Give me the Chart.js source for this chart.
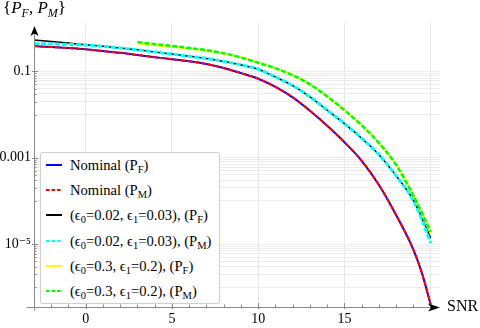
<!DOCTYPE html>
<html>
<head>
<meta charset="utf-8">
<script src="https://cdn.jsdelivr.net/npm/chart.js@4.4.1/dist/chart.umd.min.js"></script>
<style>
  body { margin: 0; background: #fff; }
  #wrap { position: relative; width: 480px; height: 328px; font-family: "Liberation Serif", "DejaVu Serif", serif; color: #000; }
  canvas { position: absolute; left: 0; top: 0; }
  .sub { font-size: 10.5px; position: relative; top: 3px; }
  #ytitle { position: absolute; left: 3px; top: -2px; font-size: 17px; white-space: nowrap; }
  #ytitle .s2 { font-size: 12px; position: relative; top: 4px; font-style: italic; }
  #xtitle { position: absolute; left: 447px; top: 297px; font-size: 16px; }
  #legend { position: absolute; left: 40px; top: 152px; width: 178px; height: 150px; background: #fff; border: 1px solid #cfcfcf; border-radius: 2px; }
  .row { position: absolute; left: 0; height: 20px; white-space: nowrap; font-size: 14.6px; line-height: 20px; }
  .row svg { position: absolute; left: 5px; top: 8px; }
  .row .t { position: absolute; left: 29px; top: 0; }
</style>
</head>
<body>
<div id="wrap">
  <canvas id="chart" width="480" height="328"></canvas>
  <div id="ytitle">{<i>P</i><span class="s2">F</span>, <i>P</i><span class="s2">M</span>}</div>
  <div id="xtitle">SNR</div>
  <div id="legend"></div>
</div>
<script>
// SNR grid of the curves
const snrFull = [-3, -2, -1, 0, 1, 2, 3, 4, 5, 6, 7, 8, 9, 10, 11, 12, 13, 14, 15, 16, 17, 18, 19, 19.5, 20];
const snrHigh = [3, 4, 5, 6, 7, 8, 9, 10, 11, 12, 13, 14, 15, 16, 17, 18, 19, 19.5, 20];

// nominal detector (P_F and P_M coincide)
const nominalPF = [0.3855, 0.3673, 0.3467, 0.3236, 0.2951, 0.2692, 0.2399, 0.2138, 0.1905, 0.1718, 0.1479, 0.1202,
  0.0912, 0.0676, 0.0437, 0.0251, 0.0123, 0.0055, 0.00229, 8.5e-4, 2.34e-4, 4.68e-5, 7.4e-6, 2.09e-6, 4.0e-7];
const nominalPM = [0.3855, 0.3673, 0.3467, 0.3236, 0.2951, 0.2692, 0.2399, 0.2138, 0.1905, 0.1718, 0.1479, 0.1202,
  0.0912, 0.0676, 0.0437, 0.0251, 0.0123, 0.0055, 0.00229, 8.5e-4, 2.34e-4, 4.68e-5, 7.4e-6, 2.09e-6, 4.0e-7];

// eps0 = 0.02, eps1 = 0.03
const lowPF = [0.531, 0.490, 0.452, 0.412, 0.3802, 0.3467, 0.3162, 0.2818, 0.2512, 0.2239, 0.1995, 0.1698,
  0.1413, 0.1122, 0.0741, 0.0468, 0.0257, 0.0126, 0.00617, 0.00282, 0.001175, 3.8e-4, 1.05e-4, 3.98e-5, 1.38e-5];
const lowPM = [0.4406, 0.4315, 0.4217, 0.4074, 0.3802, 0.3467, 0.3162, 0.2818, 0.2512, 0.2239, 0.1995, 0.1698,
  0.1413, 0.1122, 0.0741, 0.0468, 0.0257, 0.0126, 0.00617, 0.00282, 0.001175, 3.8e-4, 1.0e-4, 3.55e-5, 1.05e-5];

// eps0 = 0.3, eps1 = 0.2
const highPF = [0.4416, 0.4027, 0.3715, 0.3350, 0.3020, 0.2600, 0.2089, 0.1585, 0.1175, 0.0813, 0.0501, 0.0263,
  0.0126, 0.00562, 0.00219, 6.8e-4, 1.32e-4, 5.2e-5, 1.78e-5];
const highPM = [0.4786, 0.4266, 0.3890, 0.3467, 0.3090, 0.2630, 0.2089, 0.1585, 0.1175, 0.0813, 0.0501, 0.0263,
  0.0126, 0.00562, 0.00219, 6.8e-4, 1.32e-4, 5.2e-5, 1.9e-5];

// axes
const xLabelled = [0, 5, 10, 15];
const xGridAt = [0, 5, 10, 15, 20];
const yTickValues = [0.1, 0.001, 1e-5];
const yTickLabels = ['0.1', '0.001', '10\u207B\u2075'];
const yMinorDecades = [1e-2, 1e-4, 1e-6];

function zip(xs, ys) {
  return xs.map((x, i) => ({ x: x, y: ys[i] }));
}

function yLabelIndex(v) {
  return yTickValues.findIndex(t => Math.abs(Math.log10(v) - Math.log10(t)) < 1e-6);
}

const series = [
  { label: 'Nominal (P<span class="sub">F</span>)', color: '#0000ff', dash: [], width: 2, data: zip(snrFull, nominalPF), order: 6 },
  { label: 'Nominal (P<span class="sub">M</span>)', color: '#ff0000', dash: [5, 2], width: 2, data: zip(snrFull, nominalPM), order: 5 },
  { label: '(\u03F5<span class="sub">0</span>=0.02, \u03F5<span class="sub">1</span>=0.03), (P<span class="sub">F</span>)', color: '#000000', dash: [], width: 1.5, data: zip(snrFull, lowPF), order: 4 },
  { label: '(\u03F5<span class="sub">0</span>=0.02, \u03F5<span class="sub">1</span>=0.03), (P<span class="sub">M</span>)', color: '#00ffff', dash: [5, 2], width: 3, data: zip(snrFull, lowPM), order: 3 },
  { label: '(\u03F5<span class="sub">0</span>=0.3, \u03F5<span class="sub">1</span>=0.2), (P<span class="sub">F</span>)', color: '#ffff00', dash: [], width: 2, data: zip(snrHigh, highPF), order: 2 },
  { label: '(\u03F5<span class="sub">0</span>=0.3, \u03F5<span class="sub">1</span>=0.2), (P<span class="sub">M</span>)', color: '#00ff00', dash: [5, 2], width: 2.5, data: zip(snrHigh, highPM), order: 1 },
];

// legend as html
const legendEl = document.getElementById('legend');
const rowTops = [2, 27, 52, 77.5, 103, 128];
series.forEach((s, i) => {
  const row = document.createElement('div');
  row.className = 'row';
  row.style.top = rowTops[i] + 'px';
  const dash = s.dash.length ? 'stroke-dasharray="3.5,2"' : '';
  row.innerHTML = '<svg width="18" height="4"><line x1="0" y1="2" x2="16" y2="2" stroke="' + s.color +
    '" stroke-width="2" ' + dash + '/></svg><span class="t">' + s.label + '</span>';
  legendEl.appendChild(row);
});

const axisDecor = {
  id: 'axisDecor',
  beforeDatasetsDraw(chart) {
    const { ctx, scales: { x, y } } = chart;
    const x0 = x.left, y0 = y.bottom;
    ctx.save();
    ctx.strokeStyle = '#8a8a8a';
    ctx.lineWidth = 1;
    ctx.beginPath();
    x.ticks.forEach(t => {
      const px = Math.round(x.getPixelForValue(t.value)) + 0.5;
      const major = xLabelled.includes(t.value);
      ctx.moveTo(px, y0 + (major ? 2 : 0));
      ctx.lineTo(px, y0 - (major ? 4 : 2.5));
    });
    y.ticks.forEach(t => {
      const py = Math.round(y.getPixelForValue(t.value)) + 0.5;
      const major = yLabelIndex(t.value) >= 0;
      ctx.moveTo(x0 - (major ? 2 : 0), py);
      ctx.lineTo(x0 + (major ? 4 : 2.5), py);
    });
    ctx.stroke();
    ctx.restore();
  },
  afterDatasetsDraw(chart) {
    const { ctx, scales: { x, y } } = chart;
    const x0 = x.left + 0.5, y0 = y.bottom + 0.5;
    ctx.save();
    ctx.strokeStyle = '#8a8a8a';
    ctx.lineWidth = 1;
    ctx.beginPath();
    ctx.moveTo(x0, y0 + 3);
    ctx.lineTo(x0, y.top + 10);
    ctx.moveTo(x0 - 8, y0);
    ctx.lineTo(x.right - 9, y0);
    ctx.stroke();

    ctx.fillStyle = '#000';
    const top = y.top + 3;
    ctx.beginPath();
    ctx.moveTo(x0, top);
    ctx.lineTo(x0 + 4, top + 10);
    ctx.lineTo(x0, top + 7.5);
    ctx.lineTo(x0 - 4, top + 10);
    ctx.closePath();
    ctx.fill();

    const tip = x.right;
    ctx.beginPath();
    ctx.moveTo(tip, y0);
    ctx.lineTo(tip - 12, y0 - 4);
    ctx.lineTo(tip - 9, y0);
    ctx.lineTo(tip - 12, y0 + 4);
    ctx.closePath();
    ctx.fill();
    ctx.restore();
  }
};

Chart.defaults.font.family = '"Liberation Serif", "DejaVu Serif", serif';
Chart.defaults.color = '#000';

new Chart(document.getElementById('chart'), {
  type: 'line',
  data: {
    datasets: series.map(s => ({
      data: s.data,
      borderColor: s.color,
      borderWidth: s.width,
      borderDash: s.dash,
      pointRadius: 0,
      fill: false,
      cubicInterpolationMode: 'monotone',
      order: s.order,
    })),
  },
  options: {
    responsive: false,
    animation: false,
    layout: { padding: { top: 23, right: 40, left: 0, bottom: 0 } },
    plugins: { legend: { display: false }, tooltip: { enabled: false } },
    scales: {
      x: {
        type: 'linear',
        min: -3,
        max: 20.54,
        afterBuildTicks: (scale) => {
          const ticks = [];
          for (let v = -3; v <= 20; v++) ticks.push({ value: v });
          scale.ticks = ticks;
        },
        afterFit: (scale) => { scale.height = 21; },
        grid: {
          drawTicks: false,
          color: (ctx) => (ctx.tick && xGridAt.includes(ctx.tick.value) ? '#e6e6e6' : 'rgba(0,0,0,0)'),
        },
        border: { display: false },
        ticks: {
          autoSkip: false,
          maxRotation: 0,
          padding: 4,
          font: { size: 14 },
          callback: (v) => (xLabelled.includes(v) ? String(v) : ''),
        },
      },
      y: {
        type: 'logarithmic',
        min: 3.5e-7,
        max: 1.32,
        afterBuildTicks: (scale) => {
          const ticks = [];
          yMinorDecades.forEach(d => {
            for (let m = 1; m <= 10; m++) ticks.push({ value: m * d });
          });
          scale.ticks = ticks;
        },
        afterFit: (scale) => { scale.width = 34; },
        grid: {
          drawTicks: false,
          color: '#ececec',
        },
        border: { display: false },
        ticks: {
          autoSkip: false,
          padding: 3,
          font: { size: 14 },
          callback: (v) => {
            const i = yLabelIndex(v);
            return i >= 0 ? yTickLabels[i] : '';
          },
        },
      },
    },
  },
  plugins: [axisDecor],
});
</script>
</body>
</html>
